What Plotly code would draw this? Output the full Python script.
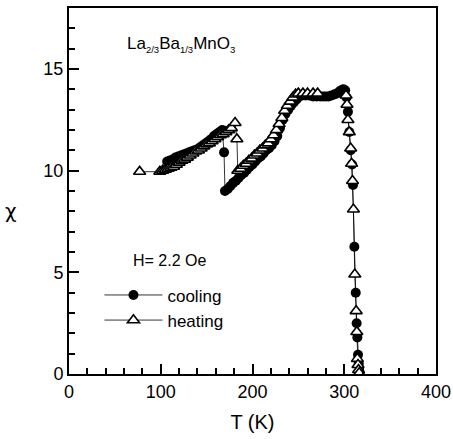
import plotly.graph_objects as go

# Susceptibility of La2/3Ba1/3MnO3 measured on cooling and on heating
cooling_T = [316.5, 315.8, 315.0, 314.3, 313.5, 312.5, 311.0, 309.5, 308.5, 307.0,
             305.5, 304.0, 302.5, 301.0, 299.0, 297.0, 295.0, 292.0, 289.0, 286.0,
             283.0, 280.0, 277.0, 274.0, 270.0, 266.0, 262.0, 258.0, 254.0, 251.0,
             248.0, 245.0, 242.0, 239.0, 236.0, 233.0, 230.0, 227.0, 224.0, 221.0,
             218.0, 215.0, 212.0, 209.0, 206.0, 203.0, 200.0, 197.0, 194.0, 191.0,
             188.0, 185.0, 182.0, 179.0, 176.0, 173.0, 170.0, 169.0, 167.0, 164.0,
             161.0, 158.0, 155.0, 152.0, 149.0, 146.0, 143.0, 140.0, 137.0, 134.0,
             131.0, 128.0, 125.0, 122.0, 119.0, 116.0, 113.0, 110.0, 107.0]
cooling_chi = [0.1, 0.5, 0.95, 1.8, 2.5, 4.0, 6.26, 9.3, 10.3, 11.0,
               11.9, 12.9, 13.6, 13.95, 14.0, 13.95, 13.9, 13.8, 13.75, 13.7,
               13.65, 13.65, 13.65, 13.65, 13.65, 13.65, 13.7, 13.7, 13.7, 13.65,
               13.5, 13.35, 13.2, 13.0, 12.8, 12.5, 12.1, 11.7, 11.45, 11.25,
               11.1, 11.0, 10.85, 10.7, 10.6, 10.45, 10.3, 10.2, 10.05, 9.9,
               9.8, 9.65, 9.5, 9.4, 9.25, 9.1, 9.0, 10.9, 12.0, 11.9,
               11.8, 11.7, 11.55, 11.45, 11.35, 11.25, 11.15, 11.05, 11.0, 10.95,
               10.9, 10.85, 10.8, 10.75, 10.7, 10.65, 10.55, 10.5, 10.45]

heating_T = [77.0, 99.0, 102.0, 105.0, 108.0, 111.0, 114.0, 117.0, 120.0, 123.0,
             126.0, 129.0, 132.0, 135.0, 138.0, 141.0, 144.0, 147.0, 150.0, 153.0,
             156.0, 159.0, 162.0, 165.0, 168.0, 171.0, 174.0, 177.0, 181.0, 183.0,
             184.0, 187.0, 190.0, 193.0, 196.0, 199.0, 202.0, 205.0, 208.0, 211.0,
             214.0, 217.0, 220.0, 223.0, 226.0, 229.0, 232.0, 235.0, 238.0, 241.0,
             244.0, 247.0, 250.0, 255.0, 260.0, 266.0, 271.0, 302.0, 303.0, 304.0,
             305.5, 307.0, 308.0, 309.0, 310.0, 311.5, 313.0, 313.7, 314.3, 315.0,
             315.6, 316.3]
heating_chi = [9.95, 9.95, 10.0, 10.05, 10.1, 10.15, 10.2, 10.3, 10.4, 10.5,
               10.55, 10.65, 10.75, 10.85, 10.95, 11.0, 11.1, 11.2, 11.3, 11.35,
               11.45, 11.55, 11.65, 11.75, 11.8, 11.9, 12.0, 12.1, 12.35, 11.55,
               10.0, 10.1, 10.25, 10.35, 10.5, 10.6, 10.75, 10.85, 11.0, 11.1,
               11.25, 11.35, 11.55, 11.75, 12.0, 12.3, 12.6, 12.95, 13.2, 13.4,
               13.6, 13.75, 13.8, 13.8, 13.8, 13.8, 13.8, 13.7, 13.25, 12.5,
               11.9, 11.1, 10.35, 9.5, 8.1, 4.9, 3.1, 2.07, 0.75, 0.45,
               0.2, 0.05]

x_ticks = [0, 100, 200, 300, 400]
y_ticks = [0, 5, 10, 15]

FONT = "Liberation Sans, Arial, sans-serif"

fig = go.Figure()
fig.add_trace(go.Scatter(
    x=cooling_T, y=cooling_chi, mode="lines+markers", name="cooling",
    line=dict(color="black", width=0.8),
    marker=dict(symbol="circle", size=10, color="black"),
))
fig.add_trace(go.Scatter(
    x=heating_T, y=heating_chi, mode="lines+markers", name="heating",
    line=dict(color="black", width=0.8),
    marker=dict(symbol="triangle-up", size=10.5, color="white",
                line=dict(color="black", width=1.6)),
))

axis_common = dict(
    showline=True, linecolor="black", linewidth=2, mirror=True,
    ticks="inside", tickcolor="black", tickwidth=1.6, ticklen=10,
    showgrid=False, zeroline=False,
    tickfont=dict(family=FONT, size=18, color="black"),
)

fig.update_xaxes(
    range=[0, 400], tickvals=x_ticks, ticktext=[str(v) for v in x_ticks],
    minor=dict(dtick=20, ticks="inside", ticklen=6, tickwidth=1.6, tickcolor="black"),
    title=dict(text="T (K)", font=dict(family=FONT, size=20, color="black"), standoff=14),
    **axis_common,
)
fig.update_yaxes(
    range=[0, 18], tickvals=y_ticks, ticktext=[str(v) for v in y_ticks],
    minor=dict(dtick=1, ticks="inside", ticklen=6, tickwidth=1.6, tickcolor="black"),
    **axis_common,
)

fig.add_annotation(
    text="χ", xref="paper", yref="y", x=-0.157, y=8.0, showarrow=False,
    font=dict(family="DejaVu Sans, sans-serif", size=20, color="black"),
    xanchor="center", yanchor="middle",
)
SUB = "<sub><span style='font-size:9.5px'>{}</span></sub>"
fig.add_annotation(
    text="La" + SUB.format("2/3") + "Ba" + SUB.format("1/3") + "MnO" + SUB.format("3"),
    xref="x", yref="y", x=61, y=16.2, showarrow=False, xanchor="left", yanchor="middle",
    font=dict(family=FONT, size=17, color="black"),
)
fig.add_annotation(
    text="H= 2.2 Oe", xref="x", yref="y", x=68, y=5.6, showarrow=False,
    xanchor="left", yanchor="middle",
    font=dict(family=FONT, size=16, color="black"),
)

fig.update_layout(
    width=453, height=439,
    margin=dict(l=69, r=17, t=8, b=65, autoexpand=False),
    paper_bgcolor="white", plot_bgcolor="white",
    showlegend=True,
    legend=dict(
        x=0.083, y=4.75 / 18, xref="paper", yref="paper", xanchor="left", yanchor="top",
        bgcolor="rgba(0,0,0,0)", borderwidth=0, itemwidth=58,
        font=dict(family=FONT, size=17, color="black"),
        tracegroupgap=0,
    ),
)

fig.write_html("out.html")
